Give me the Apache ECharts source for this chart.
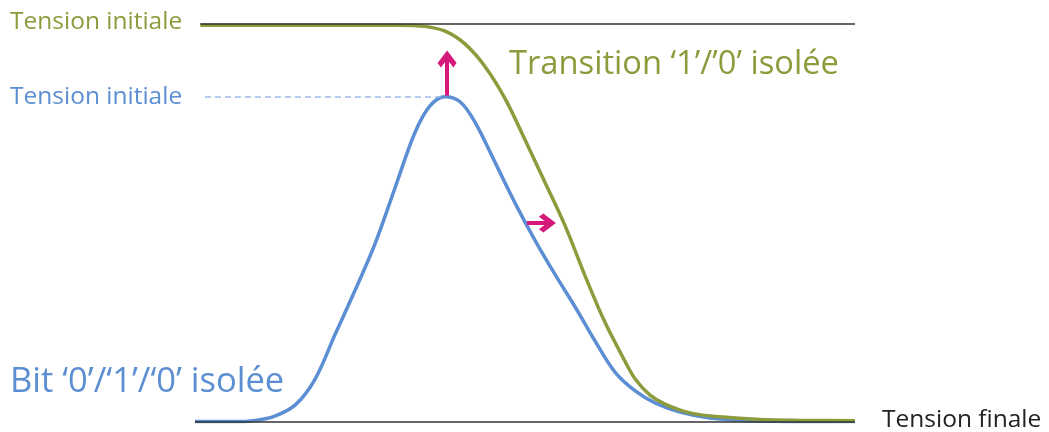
<!DOCTYPE html>
<html>
<head>
<meta charset="utf-8">
<script src="https://cdn.jsdelivr.net/npm/echarts@6/dist/echarts.min.js"></script>
<style>
  html, body { margin: 0; padding: 0; background: #fff; }
  #main { width: 1049px; height: 432px; }
</style>
</head>
<body>
<div id="main"></div>
<script>
// time axis 0..100, voltage normalised 0 (tension finale) .. 1 (tension initiale)
const transitionT = [0.8, 31.1, 34.8, 37.9, 40.9, 43.9, 47.0, 50.0, 53.0, 56.1, 59.1, 62.1, 65.2, 66.7, 68.9, 71.2, 75.0, 79.5, 85.6, 91.7, 100];
const transitionV = [0.997, 0.997, 0.994, 0.982, 0.950, 0.894, 0.812, 0.709, 0.603, 0.492, 0.367, 0.251, 0.151, 0.108, 0.068, 0.045, 0.023, 0.013, 0.006, 0.004, 0.003];

const bitT = [0, 6.1, 9.1, 12.1, 15.2, 18.2, 21.2, 24.2, 27.3, 30.3, 33.3, 35.6, 37.9, 40.2, 42.4, 45.5, 48.5, 51.5, 54.5, 57.6, 60.6, 63.6, 66.7, 69.7, 73.5, 78.0, 84.1, 91.7, 100];
const bitV = [0.001, 0.001, 0.004, 0.015, 0.043, 0.108, 0.219, 0.329, 0.449, 0.588, 0.726, 0.794, 0.817, 0.804, 0.754, 0.651, 0.550, 0.457, 0.372, 0.289, 0.204, 0.126, 0.078, 0.048, 0.025, 0.010, 0.003, 0.001, 0.001];

const peakT = 37.9;
const peakV = 0.817;
const upArrow = [[38.2, 0.820], [38.2, 0.912]];
const rightArrow = [[50.3, 0.500], [53.4, 0.500]];

const green = '#8c9b3c';
const blue = '#5b8ed2';
const pink = '#d6197b';
const chevron = 'path://M10,0 L20,10 L16.5,13.5 L10,7 L3.5,13.5 L0,10 Z';

var chartDom = document.getElementById('main');
var myChart = echarts.init(chartDom);
var option;

const zip = (a, b) => a.map((v, i) => [v, b[i]]);

option = {
  animation: false,
  grid: { left: 195, right: 194, top: 24, bottom: 10 },
  xAxis: { type: 'value', min: 0, max: 100, show: false },
  yAxis: { type: 'value', min: 0, max: 1, show: false },
  graphic: [
    { type: 'text', left: 10, top: 10, style: { text: 'Tension initiale', fill: green, font: '24.5px "Open Sans"' } },
    { type: 'text', left: 10, top: 85, style: { text: 'Tension initiale', fill: blue, font: '24.5px "Open Sans"' } },
    { type: 'text', left: 509, top: 48, style: { text: 'Transition \u20181\u2019/\u20190\u2019 isol\u00e9e', fill: green, font: '32.7px "Open Sans"' } },
    { type: 'text', left: 10, top: 365, style: { text: 'Bit \u20180\u2019/\u20181\u2019/\u20180\u2019 isol\u00e9e', fill: blue, font: '34.5px "Open Sans"' } },
    { type: 'text', left: 882, top: 408, style: { text: 'Tension finale', fill: '#222', font: '24.5px "Open Sans"' } }
  ],
  series: [
    {
      name: 'refs',
      type: 'line',
      data: [],
      markLine: {
        silent: true,
        symbol: ['none', 'none'],
        label: { show: false },
        data: [
          [{ coord: [0.8, 1], lineStyle: { color: '#333', width: 1.5, type: 'solid' } }, { coord: [100, 1] }],
          [{ coord: [0, 0], lineStyle: { color: '#333', width: 1.5, type: 'solid' } }, { coord: [100, 0] }],
          [{ coord: [1.5, peakV], lineStyle: { color: '#9dbce6', width: 1.5, type: [6, 4] } }, { coord: [peakT, peakV] }]
        ]
      }
    },
    {
      name: 'Bit',
      type: 'line',
      smooth: 0.35,
      symbol: 'none',
      lineStyle: { color: blue, width: 3.5 },
      data: zip(bitT, bitV),
      z: 3
    },
    {
      name: 'Transition',
      type: 'line',
      smooth: 0.35,
      symbol: 'none',
      lineStyle: { color: green, width: 3.5 },
      data: zip(transitionT, transitionV),
      z: 3,
      markLine: {
        silent: true,
        symbol: ['none', chevron],
        symbolSize: [19, 17],
        label: { show: false },
        lineStyle: { color: pink, width: 4, type: 'solid' },
        data: [
          [{ coord: upArrow[0] }, { coord: upArrow[1] }],
          [{ coord: rightArrow[0] }, { coord: rightArrow[1] }]
        ]
      }
    }
  ]
};

option && myChart.setOption(option);
</script>
</body>
</html>
